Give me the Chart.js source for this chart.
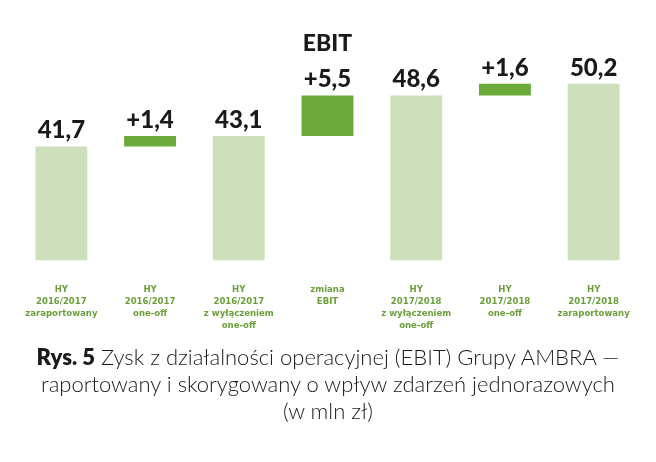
<!DOCTYPE html>
<html>
<head>
<meta charset="utf-8">
<script src="https://cdn.jsdelivr.net/npm/chart.js@4"></script>
<style>
  html, body { margin: 0; padding: 0; background: #fff; }
  #wrap { position: absolute; left: 0; top: 0; width: 656px; height: 346px; }
  #caption {
    position: absolute; left: 0; top: 343px;
    width: 656px; text-align: center; color: #1a1a1a;
    font-family: Lato, "Open Sans", sans-serif; font-weight: 300;
    font-size: 22px; line-height: 27px;
  }
  #caption b { font-weight: 800; }
</style>
</head>
<body>
<div id="wrap"><canvas id="ebitChart"></canvas></div>
<div id="caption"><b>Rys. 5</b> Zysk z działalności operacyjnej (EBIT) Grupy AMBRA —<br>raportowany i skorygowany o wpływ zdarzeń jednorazowych<br>(w mln zł)</div>
<script>
// data
const categories = [
  ['HY', '2016/2017', 'zaraportowany'],
  ['HY', '2016/2017', 'one-off'],
  ['HY', '2016/2017', 'z wyłączeniem', 'one-off'],
  ['zmiana', 'EBIT'],
  ['HY', '2017/2018', 'z wyłączeniem', 'one-off'],
  ['HY', '2017/2018', 'one-off'],
  ['HY', '2017/2018', 'zaraportowany']
];
const values = [41.7, 1.4, 43.1, 5.5, 48.6, 1.6, 50.2];
const isTotal = [true, false, true, false, true, false, true];
const yMin = 26.2;
const yMax = 52.4;

// waterfall ranges
let running = 0;
const ranges = values.map((v, i) => {
  if (isTotal[i]) { running = v; return [yMin, v]; }
  const r = [running, running + v];
  running += v;
  return r;
});
const labels = values.map((v, i) => (isTotal[i] ? '' : '+') + v.toFixed(1).replace('.', ','));
const colors = isTotal.map(t => t ? '#cde0bb' : '#6aaa3a');

const valueLabels = {
  id: 'valueLabels',
  afterDatasetsDraw(chart) {
    const ctx = chart.ctx;
    ctx.save();
    ctx.font = '900 24px Lato, sans-serif';
    ctx.fillStyle = '#1a1a1a';
    ctx.textAlign = 'center';
    ctx.textBaseline = 'bottom';
    chart.getDatasetMeta(0).data.forEach((bar, i) => {
      ctx.fillText(labels[i], bar.x, Math.min(bar.y, bar.base) - 4);
    });
    ctx.restore();
  }
};

new Chart(document.getElementById('ebitChart'), {
  type: 'bar',
  data: {
    labels: categories,
    datasets: [{
      data: ranges,
      backgroundColor: colors,
      barPercentage: 0.585,
      categoryPercentage: 1
    }]
  },
  options: {
    responsive: true,
    maintainAspectRatio: false,
    animation: false,
    layout: { padding: { left: 17, right: 18, bottom: 0 } },
    plugins: {
      legend: { display: false },
      tooltip: { enabled: false },
      title: {
        display: true,
        text: 'EBIT',
        color: '#1a1a1a',
        font: { family: 'Lato', size: 23, weight: '900' },
        padding: { top: 30, bottom: 10 }
      }
    },
    scales: {
      x: {
        grid: { display: false },
        border: { display: false },
        ticks: {
          color: '#6a9f3a',
          font: { family: '"DejaVu Sans Condensed", "DejaVu Sans", sans-serif', size: 9.5, weight: 'bold', lineHeight: 1.25 },
          padding: 15,
          maxRotation: 0,
          autoSkip: false
        }
      },
      y: {
        display: false,
        min: yMin,
        max: yMax
      }
    }
  },
  plugins: [valueLabels]
});
</script>
</body>
</html>
